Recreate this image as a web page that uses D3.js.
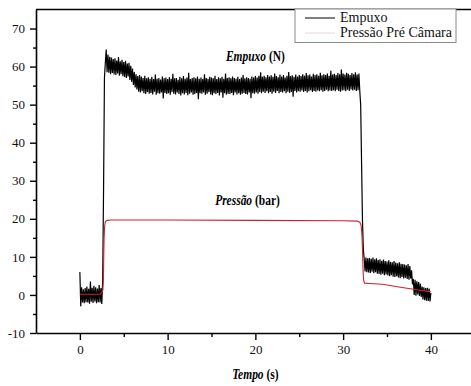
<!DOCTYPE html>
<html lang="pt">
<head>
  <meta charset="UTF-8" />
  <title>Empuxo e Pressão</title>
  <style>
    html, body { margin:0; padding:0; background:#fff; }
    svg { display:block; }
    svg text { font-family:"Liberation Serif", "DejaVu Serif", serif; }
  </style>
</head>
<body>
  <svg id="chart" width="471" height="386"></svg>
  <script src="https://d3js.org/d3.v7.min.js"></script>
  <script>
  // Tempo axis sampling of the thrust record (s)
  const tempoStep = 0.1;

  // Empuxo (N), one row per second
  const empuxo = [
    6, -3, 2, -2, 1.5, -2.2, 1.8, -1.9, 2.2, -2,            // 0.x
    1.6, -2.3, 3.5, -1.8, 1.9, -2.1, 2.4, -1.7, 2, -2.2,    // 1.x
    1.7, -1.9, 2.6, -2, 1.8, -2.4, 4, 28, 57, 61,           // 2.x
    64.5, 58.5, 63.2, 58.4, 62.6, 58, 62.4, 58.3, 62, 57.9, // 3.x
    62.2, 57.8, 61.6, 58.2, 62.5, 57.6, 61.4, 58, 61.8, 57.5,
    61.2, 57.3, 61.5, 57, 60.8, 57.4, 61, 56.5, 60.2, 56,
    59.5, 55.2, 58.6, 54.5, 58, 54, 57.5, 53.4, 57.8, 53.2,
    57.4, 53.5, 57, 53, 57.6, 52.8, 56.9, 53.3, 57.2, 52.9,
    56.8, 53.1, 57.3, 52.7, 56.7, 53.4, 57.9, 52.6, 56.8, 53,
    57, 52.9, 56.6, 53.2, 57.4, 51.6, 56.9, 53.1, 57.1, 52.8,
    56.7, 53, 57.2, 52.6, 56.8, 53.3, 58.1, 52.9, 56.9, 52.7, // 10.x
    57, 53.2, 56.5, 52.8, 57.3, 52.4, 56.9, 53, 57.5, 52.7,
    56.8, 53.1, 57.1, 52.5, 58.4, 52.9, 56.7, 53.2, 57, 52.6,
    57.2, 52.8, 56.9, 53.1, 57.4, 51.4, 56.8, 53, 57.1, 52.9,
    56.7, 53.2, 58, 52.6, 57, 52.9, 56.8, 53.3, 57.3, 52.7,
    57.1, 52.5, 56.9, 53, 57.6, 52.8, 56.7, 53.1, 57.2, 52.4,
    56.9, 53.2, 57.3, 51.8, 56.8, 53, 58.2, 52.6, 57, 52.9,
    57.2, 52.8, 56.9, 53.1, 57.4, 52.5, 57, 53.2, 56.8, 52.7,
    57.3, 53, 56.7, 52.6, 57.1, 52.9, 57.8, 53.1, 56.9, 52.8,
    57.2, 52.7, 57, 53.2, 56.8, 51.7, 57.4, 53, 57.1, 52.9,
    57.5, 53.2, 57.1, 52.9, 57.6, 53.3, 58.5, 53, 57.3, 53.4, // 20.x
    57.6, 53.1, 57.2, 53.5, 57.8, 53, 57.4, 53.3, 57.7, 52.9,
    57.3, 53.4, 58.2, 53.1, 57.5, 53.6, 57.2, 53, 57.9, 53.3,
    57.4, 53.2, 57.8, 53.5, 57.1, 53, 57.6, 53.4, 58.6, 53.1,
    57.5, 53.3, 57.7, 52.1, 57.3, 53.6, 57.9, 53.2, 57.4, 53.5,
    57.8, 53.4, 57.5, 53.7, 58, 53.3, 57.6, 53.6, 58.3, 53.2,
    57.7, 53.5, 57.9, 53.8, 57.4, 53.3, 58.1, 53.6, 57.8, 53.4,
    58, 53.7, 57.6, 53.5, 58.4, 53.8, 57.7, 53.4, 58, 53.6,
    57.8, 53.9, 58.2, 53.5, 57.6, 53.7, 58.9, 53.6, 57.9, 53.8,
    58.1, 53.5, 57.8, 53.9, 58.3, 53.6, 58, 53.4, 59.2, 53.7,
    58.2, 53.8, 57.9, 53.5, 58.4, 53.9, 58.1, 53.6, 57.8, 54,   // 30.x
    58.3, 53.7, 58, 53.9, 58.5, 53.6, 57.9, 53.8, 58.2, 53.5,
    50, 35, 20, 12, 9.5, 6.2, 9.8, 6, 9.6, 5.9,              // 32.x
    9.7, 5.8, 9.5, 6.1, 9.8, 5.7, 9.4, 6, 9.6, 5.6,
    9.2, 5.5, 9.4, 5.3, 9, 5.6, 9.3, 5.2, 8.9, 5.4,
    8.8, 5.1, 9.1, 4.9, 8.7, 5.2, 8.6, 4.8, 8.9, 4.7,
    8.5, 4.9, 8.3, 4.6, 8.6, 4.4, 8.2, 4.7, 8.1, 4.3,
    8, 4.5, 7.8, 4.2, 8.1, 4, 7.6, 4.3, 6.5, 2.8,
    4.2, 0, 4, -0.2, 3.6, 0.1, 3.4, -0.3, 3, -0.5,
    2.2, -1.2, 2, -1.4, 1.8, -1.5, 1.9, -1.6, 1.7, -1.7,
    0.5                                                      // 40.0
  ];

  // Pressão pré câmara (bar)
  const pressaoT = [0, 2.3, 2.5, 2.62, 2.68, 2.72, 2.76, 2.82, 2.9, 3.1, 3.6, 10, 20, 30, 31.6, 31.9, 32.05, 32.15, 32.22, 32.28, 32.34, 32.45, 33, 34.5, 36, 38, 40];
  const pressaoV = [0.2, 0.2, 0.7, 1.3, 4, 10, 15, 18, 19.2, 19.6, 19.7, 19.7, 19.6, 19.5, 19.4, 19.1, 18.3, 15.5, 11, 6, 3.8, 3.1, 3, 2.8, 2.2, 1.5, 0.8];

  const xTicks = [0, 10, 20, 30, 40];
  const xMinor = [5, 15, 25, 35];
  const yTicks = [-10, 0, 10, 20, 30, 40, 50, 60, 70];
  const yMinor = [-5, 5, 15, 25, 35, 45, 55, 65];
  const legendLabels = ["Empuxo", "Pressão Pré Câmara"];

  const serif = '"Liberation Serif", "DejaVu Serif", serif';
  const svg = d3.select('#chart');
  svg.append('rect').attr('width', 471).attr('height', 386).attr('fill', '#fff');

  const x = d3.scaleLinear().domain([-5, 45]).range([36, 474.75]);
  const y = d3.scaleLinear().domain([-10, 75]).range([333, 9.5]);

  const empData = empuxo.map((v, i) => [i * tempoStep, v]);
  const presData = pressaoT.map((t, i) => [t, pressaoV[i]]);

  const line = d3.line().x(d => x(d[0])).y(d => y(d[1]));

  // traces
  svg.append('path').datum(empData)
    .attr('d', line).attr('fill', 'none')
    .attr('stroke', '#000').attr('stroke-width', 1.2);
  svg.append('path').datum(presData)
    .attr('d', line).attr('fill', 'none')
    .attr('stroke', '#c8242c').attr('stroke-width', 1.1);

  // axes
  svg.append('g').attr('transform', `translate(0,${y(-10)})`)
    .call(d3.axisBottom(x).tickValues(xTicks).tickSize(7).tickSizeOuter(0).tickPadding(5));
  svg.append('g').attr('transform', `translate(0,${y(-10)})`)
    .call(d3.axisBottom(x).tickValues(xMinor).tickSize(4).tickFormat('').tickSizeOuter(0))
    .select('.domain').remove();
  svg.append('g').attr('transform', `translate(${x(-5)},0)`)
    .call(d3.axisLeft(y).tickValues(yTicks).tickSize(6).tickSizeOuter(0).tickPadding(5));
  svg.append('g').attr('transform', `translate(${x(-5)},0)`)
    .call(d3.axisLeft(y).tickValues(yMinor).tickSize(3).tickFormat('').tickSizeOuter(0))
    .select('.domain').remove();

  svg.selectAll('g').attr('font-family', serif).attr('font-size', 13);
  svg.selectAll('.domain').attr('stroke', '#000').attr('stroke-width', 1.6);
  svg.selectAll('.tick line').attr('stroke', '#000').attr('stroke-width', 1.4);
  svg.selectAll('.tick text').attr('fill', '#111').text(function() { return this.textContent.replace('−', '-'); });

  // top frame line
  svg.append('line')
    .attr('x1', x(-5)).attr('x2', x.range()[1])
    .attr('y1', y(75)).attr('y2', y(75))
    .attr('stroke', '#000').attr('stroke-width', 1.6);

  // legend
  const lg = svg.append('g');
  lg.append('rect').attr('x', 295).attr('y', 9).attr('width', 161).attr('height', 33.5)
    .attr('fill', '#fff').attr('stroke', '#8a8a8a').attr('stroke-width', 1);
  lg.append('line').attr('x1', 305).attr('x2', 335).attr('y1', 18).attr('y2', 18)
    .attr('stroke', '#000').attr('stroke-width', 1);
  lg.append('line').attr('x1', 305).attr('x2', 335).attr('y1', 33).attr('y2', 33)
    .attr('stroke', '#ecd6d6').attr('stroke-width', 1);
  lg.selectAll('text.lab').data(legendLabels).join('text')
    .attr('class', 'lab')
    .attr('x', 340).attr('y', (d, i) => 21.5 + i * 15)
    .attr('font-family', serif).attr('font-size', '14px').attr('fill', '#111')
    .text(d => d);

  // annotations, squeezed horizontally like the original export
  const ann = (px, py, italic, rest) => {
    const g = svg.append('g').attr('transform', `translate(${px},${py}) scale(0.82,1)`);
    const tx = g.append('text').attr('x', 0).attr('y', 0)
      .attr('text-anchor', 'middle')
      .attr('font-family', serif).attr('font-size', '14px')
      .attr('font-weight', 'bold').attr('fill', '#000');
    tx.append('tspan').attr('font-style', 'italic').text(italic);
    tx.append('tspan').text('\u00a0' + rest);
  };
  ann(x(20), y(61.5), 'Empuxo', '(N)');
  ann(x(19.1), y(23.7), 'Pressão', '(bar)');
  ann(x(20), 379, 'Tempo', '(s)');
  </script>
</body>
</html>
